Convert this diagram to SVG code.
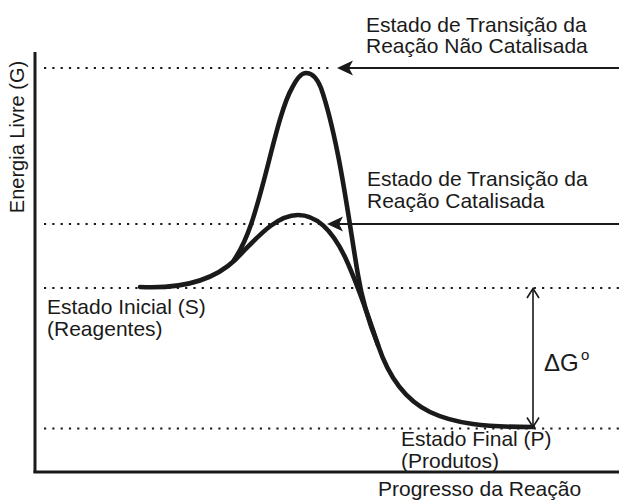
<svg xmlns="http://www.w3.org/2000/svg" width="619" height="502" viewBox="0 0 619 502">
<style>
.t{font-family:"Liberation Sans",Arial,sans-serif;font-size:21px;fill:#1a1a1a}
.dot{stroke:#1a1a1a;stroke-width:2.2;stroke-dasharray:2.2 6.1;fill:none}
.ax{stroke:#1a1a1a;stroke-width:3;fill:none}
.cv{stroke:#1a1a1a;stroke-width:4.6;fill:none;stroke-linecap:round}
.ar{stroke:#1a1a1a;stroke-width:2;fill:none}
.hd{fill:#1a1a1a}
.dg{stroke:#1a1a1a;stroke-width:1.6;fill:none}
</style>
<g id="axes">
<line class="ax" x1="35" y1="52" x2="35" y2="473"/>
<line class="ax" x1="33.5" y1="472" x2="619" y2="472"/>
<text class="t" transform="translate(24,137) rotate(-90)" text-anchor="middle" style="font-size:20px">Energia Livre (G)</text>
<text class="t" x="378" y="496">Progresso da Reação</text>
</g>
<g id="levels">
<line class="dot" x1="44" y1="68" x2="334" y2="68"/>
<line class="dot" x1="44" y1="224" x2="322" y2="224"/>
<line class="dot" x1="44" y1="288" x2="619" y2="288"/>
<line class="dot" x1="44" y1="428.5" x2="619" y2="428.5"/>
</g>
<g id="curves">
<path class="cv" d="M140,287 C180,289 212,282 235,260 C255,240 275,215 298,215 C318,215 333,232 345,257 C358,285 368,315 378,345 C388,375 405,400 430,412 C455,424 485,427 533,427"/>
<path class="cv" d="M234,260 C248,240 256,210 264,180 C272,150 282,105 292,88 C297,78 301,73 306,73 C312,73 317,78 321,88 C328,108 333,130 338,155 C346,195 352,240 358,275 C362,300 368,320 378,345"/>
</g>
<g id="connectors">
<line class="ar" x1="348" y1="68" x2="619" y2="68"/>
<path class="hd" d="M337,68 L353,60.5 L349,68 L353,75.5 Z"/>
<line class="ar" x1="338" y1="224" x2="619" y2="224"/>
<path class="hd" d="M327,224 L343,216.5 L339,224 L343,231.5 Z"/>
<line class="dg" x1="533" y1="288.5" x2="533" y2="427"/>
<path class="dg" d="M527,298 L533,288.5 L539,298 M527,417.5 L533,427 L539,417.5"/>
</g>
<g id="label-uncat">
<text class="t" x="366" y="31.5">Estado de Transição da</text>
<text class="t" x="366" y="53">Reação Não Catalisada</text>
</g>
<g id="label-cat">
<text class="t" x="367" y="186">Estado de Transição da</text>
<text class="t" x="367" y="208">Reação Catalisada</text>
</g>
<g id="label-initial">
<text class="t" x="47" y="314">Estado Inicial (S)</text>
<text class="t" x="47" y="336">(Reagentes)</text>
</g>
<g id="label-final">
<text class="t" x="401" y="446">Estado Final (P)</text>
<text class="t" x="401" y="467.5">(Produtos)</text>
</g>
<g id="label-dg">
<text class="t" x="544" y="371" style="font-size:24px">ΔG</text>
<text class="t" x="581" y="360" style="font-size:15px">o</text>
</g>
</svg>
